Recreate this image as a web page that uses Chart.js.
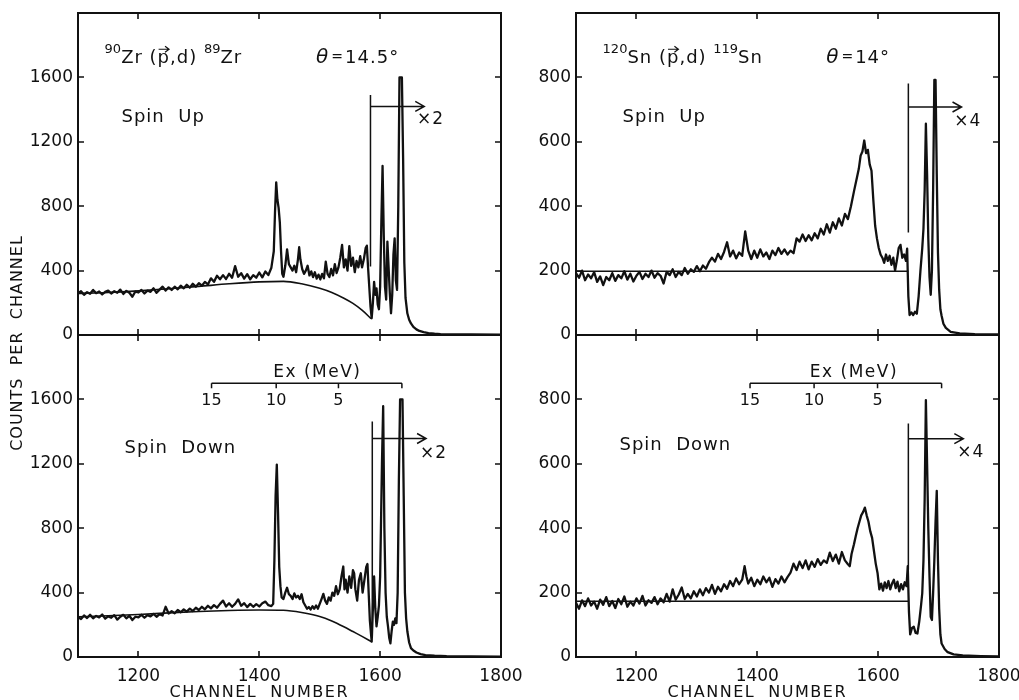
<!DOCTYPE html>
<html>
<head>
<meta charset="utf-8">
<script src="https://cdn.jsdelivr.net/npm/chart.js@4.4.0/dist/chart.umd.min.js"></script>
<style>
html, body { margin: 0; padding: 0; background: #fff; }
#wrap { position: relative; width: 1019px; height: 700px; overflow: hidden; }
#wrap canvas { position: absolute; left: 0; top: 0; }
</style>
</head>
<body>
<div id="wrap">
  <canvas id="tl" width="1019" height="700"></canvas>
  <canvas id="bl" width="1019" height="700"></canvas>
  <canvas id="tr" width="1019" height="700"></canvas>
  <canvas id="br" width="1019" height="700"></canvas>
</div>
<script>
// Axis ticks
const xTicks = [1200, 1400, 1600, 1800];
const zrTicks = [0, 400, 800, 1200, 1600];
const snTicks = [0, 200, 400, 600, 800];

// Excitation energy scale (MeV) and the channels it sits on
const exMeV = [15, 10, 5, 0];
const zrExChan = [1321, 1428, 1531, 1636];
const snExChan = [1388, 1494, 1599, 1705];

// 90Zr spin up
const tlChan = [1100,1105,1110,1115,1120,1125,1130,1135,1140,1145,1150,1155,1160,1165,1170,1175,1180,1185,1190,1195,
  1200,1205,1210,1215,1220,1225,1230,1235,1240,1245,1250,1255,1260,1265,1270,1275,1280,1285,1290,1295,
  1300,1305,1310,1315,1320,1325,1330,1335,1340,1345,1350,1355,1360,1365,1370,1375,1380,1385,1390,1395,
  1400,1405,1410,1415,1420,
  1424,1426,1428,1430,1432,1434,1436,1438,1440,1443,1446,1449,1452,1455,1458,1461,1464,1466,1468,
  1471,1474,1477,1480,1483,1486,1489,1492,1495,1498,1501,1504,1507,1510,1513,1516,1519,1522,1525,1528,
  1531,1534,1537,1540,1543,1546,1549,1552,1555,1558,1561,1564,1567,1570,1573,1576,
  1578,1580,1582,1584,1586,1588,1590,1592,1594,1596,1598,1600,1602,1604,1606,1608,1610,1612,1614,1616,
  1618,1620,1622,1624,1626,1628,1630,1632,1634,1636,1638,1640,1642,
  1645,1648,1651,1655,1660,1665,1672,1680,1690,1700,1720,1750,1800];
const tlCounts = [258,272,250,266,256,280,260,270,252,268,276,258,272,262,282,255,274,262,238,270,
  264,280,258,276,268,290,262,282,300,276,296,280,300,284,306,290,312,294,318,300,
  322,306,330,314,352,330,368,346,372,348,380,356,428,362,384,350,378,346,372,356,
  388,358,394,372,418,
  520,760,948,840,790,700,520,380,362,430,532,440,420,400,430,390,470,545,470,
  410,380,400,430,370,395,360,390,350,375,345,380,352,455,380,360,410,370,440,385,
  420,480,560,420,470,400,552,430,480,390,460,420,490,420,470,540,
  555,420,300,180,104,200,330,250,290,190,160,300,700,1050,620,300,220,580,420,260,
  135,250,500,600,340,280,800,1600,1600,1600,1100,450,230,
  135,95,72,50,35,25,18,12,8,6,4,3,2];
const tlBgChan = [1100,1150,1200,1250,1300,1350,1400,1440,1470,1500,1520,1540,1555,1570,1585];
const tlBgCounts = [258,264,274,287,302,318,330,333,318,290,264,228,196,154,102];

// 90Zr spin down
const blChan = [1100,1105,1110,1115,1120,1125,1130,1135,1140,1145,1150,1155,1160,1165,1170,1175,1180,1185,1190,1195,
  1200,1205,1210,1215,1220,1225,1230,1235,1240,1245,1250,1255,1260,1265,1270,1275,1280,1285,1290,1295,
  1300,1305,1310,1315,1320,1325,1330,1335,1340,1345,1350,1355,1360,1365,1370,1375,1380,1385,1390,1395,
  1400,1405,1410,1415,1420,
  1423,1425,1427,1429,1431,1433,1435,1437,
  1440,1443,1446,1449,1452,1455,1458,1461,1464,1467,1470,1473,1476,1479,1482,1485,1488,1491,1494,1497,
  1500,1503,1506,1509,1512,1515,1518,1521,1524,1527,1530,1533,1536,1539,
  1541,1543,1546,1549,1552,1555,1557,1559,1562,1565,1568,1571,1574,1577,1579,1581,1583,1586,1588,1590,
  1592,1594,1596,1598,1600,
  1603,1605,1607,1609,1611,1613,1615,1617,1619,1621,1623,1625,1627,1629,1631,1633,1637,1639,1641,1643,
  1645,1648,1651,1655,1660,1667,1675,1690,1710,1750,1800];
const blCounts = [248,236,258,242,262,240,255,246,264,238,252,244,260,232,250,262,240,256,230,250,
  246,262,244,260,252,268,250,266,258,312,270,284,272,292,278,296,282,300,286,306,
  292,312,296,318,302,322,306,330,350,314,334,312,330,358,318,334,310,330,312,328,
  314,334,344,322,316,
  330,600,1000,1195,900,560,440,370,
  360,400,430,390,380,360,395,370,380,360,390,340,320,300,310,295,315,300,320,300,
  330,360,392,350,330,370,350,400,380,440,390,420,500,562,
  420,480,400,500,430,540,520,420,350,480,520,400,480,560,578,400,226,95,300,500,
  300,190,250,320,500,
  1200,1558,800,400,250,190,120,85,160,220,200,240,210,400,1100,1600,1600,1000,400,240,
  160,90,55,40,28,18,12,8,5,3,2];
const blBgChan = [1100,1150,1200,1250,1300,1350,1400,1440,1470,1500,1520,1540,1555,1570,1586];
const blBgCounts = [250,256,264,274,283,289,292,290,276,252,224,188,158,128,95];

// 120Sn spin up
const trChan = [1100,1105,1110,1115,1120,1125,1130,1135,1140,1145,1150,1155,1160,1165,1170,1175,1180,1185,1190,1195,
  1200,1205,1210,1215,1220,1225,1230,1235,1240,1245,1250,1255,1260,1265,1270,1275,1280,1285,1290,1295,
  1300,1305,1310,1315,1320,1325,1330,1335,1340,1345,1350,1355,1360,1365,1370,1375,1380,1385,1390,1395,
  1400,1405,1410,1415,1420,1425,1430,1435,1440,1445,1450,1455,1460,
  1465,1470,1475,1480,1485,1490,1495,1500,1505,1510,1515,1520,1525,1530,1535,1540,1545,1550,1555,1560,1565,
  1568,1571,1574,1577,1580,1583,1586,1589,1592,1595,1598,1601,1604,1607,1610,1613,1616,1619,1622,1625,
  1628,1631,1634,1637,1640,1643,1646,
  1648,1650,1652,1655,1658,1661,1664,1667,1670,1673,
  1675,1677,1679,1681,1683,1685,1687,1689,1691,1693,1695,1697,1699,1701,1703,1705,
  1708,1712,1720,1735,1760,1800];
const trCounts = [192,178,200,170,188,176,195,165,182,155,180,170,192,168,186,176,198,172,190,166,
  184,196,174,190,180,200,178,192,184,160,196,186,204,180,196,186,208,190,204,196,
  214,198,216,206,226,240,228,252,236,258,288,244,262,238,256,246,322,262,236,262,
  240,266,244,256,236,262,248,270,252,266,250,262,254,
  300,290,312,292,310,294,316,300,330,312,344,318,350,330,362,340,376,360,400,446,490,
  516,557,570,604,565,575,530,510,420,340,300,270,250,240,224,250,230,246,218,240,
  200,232,270,280,240,250,230,
  268,120,62,70,62,72,66,120,200,270,
  330,450,656,500,300,180,125,200,450,792,792,500,255,140,80,60,
  35,22,10,5,3,2];
const trBgChan = [1100, 1650];
const trBgCounts = [198, 198];

// 120Sn spin down
const brChan = [1100,1105,1110,1115,1120,1125,1130,1135,1140,1145,1150,1155,1160,1165,1170,1175,1180,1185,1190,1195,
  1200,1205,1210,1215,1220,1225,1230,1235,1240,1245,1250,1255,1260,1265,1270,1275,1280,1285,1290,1295,
  1300,1305,1310,1315,1320,1325,1330,1335,1340,1345,1350,1355,1360,1365,1370,1375,
  1379,1382,1385,
  1390,1395,1400,1405,1410,1415,1420,1425,1430,1435,1440,1445,1450,1455,1460,1465,1470,1475,1480,1485,
  1490,1495,1500,1505,1510,1515,1520,1525,1530,1535,1540,1545,1550,1553,1556,
  1560,1563,1566,1569,1572,1575,1578,1581,1584,1587,1590,1593,1596,1599,
  1602,1605,1608,1611,1614,1617,1620,1623,1626,1629,1632,1635,1638,1641,1644,1647,
  1649,1651,1653,1656,1659,1662,1665,1668,1671,
  1673,1675,1677,1679,1681,1683,1685,1687,1689,1691,1693,1695,1697,1699,1701,1703,1705,
  1710,1715,1725,1740,1770,1800];
const brCounts = [168,150,176,158,182,160,172,150,178,162,186,158,174,152,180,164,188,156,172,160,
  182,166,190,160,176,168,186,164,182,170,196,172,210,178,194,216,180,196,182,204,
  188,210,192,214,200,224,196,218,204,226,212,236,220,244,226,240,
  282,250,228,
  246,220,240,226,250,232,246,218,242,228,250,232,248,262,290,270,296,276,300,272,
  296,280,304,286,300,292,324,298,318,290,326,300,288,282,320,
  350,376,400,420,440,450,464,440,420,390,370,330,290,261,
  210,228,206,232,214,236,210,228,240,214,234,204,226,210,232,220,
  282,140,70,90,94,75,73,110,160,
  198,300,491,798,600,400,250,125,115,200,300,420,516,300,150,70,42,
  25,15,8,5,3,2];
const brBgChan = [1100, 1650];
const brBgCounts = [173, 173];

const INK = '#111111';
const FONT = '"DejaVu Sans", sans-serif';
const Y_W = 50;   // width kept for the y tick labels
const X_H = 30;   // height kept for the x tick labels

Chart.defaults.font.family = FONT;
Chart.defaults.color = INK;

const zrReaction = [{ t: '90', sup: true }, { t: 'Zr (' }, { t: 'p', vec: true }, { t: ',d) ' }, { t: '89', sup: true }, { t: 'Zr' }];
const snReaction = [{ t: '120', sup: true }, { t: 'Sn (' }, { t: 'p', vec: true }, { t: ',d) ' }, { t: '119', sup: true }, { t: 'Sn' }];

const panels = [
  { id: 'tl', chan: tlChan, counts: tlCounts, bgChan: tlBgChan, bgCounts: tlBgCounts,
    yMax: 2000, yTicks: zrTicks, area: { left: 78, top: 13, right: 501, bottom: 335 }, xLabels: false,
    reaction: { parts: zrReaction, ch: 1144, y: 1688 }, theta: { text: '14.5°', ch: 1494, y: 1688 },
    spin: { text: 'Spin  Up', ch: 1172, y: 1350 },
    marker: { ch: 1584, lo: 425, hi: 1490 }, arrow: { y: 1420, to: 1673 }, factor: { text: '×2', ch: 1661, y: 1338 },
    yTitle: true },
  { id: 'bl', chan: blChan, counts: blCounts, bgChan: blBgChan, bgCounts: blBgCounts,
    yMax: 2000, yTicks: zrTicks, area: { left: 78, top: 335, right: 501, bottom: 657 }, xLabels: true,
    spin: { text: 'Spin  Down', ch: 1177, y: 1295 },
    marker: { ch: 1587, lo: 120, hi: 1463 }, arrow: { y: 1357, to: 1676 }, factor: { text: '×2', ch: 1666, y: 1264 },
    ex: { chan: zrExChan, y: 1700, titleCh: 1496 } },
  { id: 'tr', chan: trChan, counts: trCounts, bgChan: trBgChan, bgCounts: trBgCounts,
    yMax: 1000, yTicks: snTicks, area: { left: 576, top: 13, right: 999, bottom: 335 }, xLabels: false,
    reaction: { parts: snReaction, ch: 1144, y: 844 }, theta: { text: '14°', ch: 1514, y: 844 },
    spin: { text: 'Spin  Up', ch: 1177, y: 675 },
    marker: { ch: 1650, lo: 318, hi: 781 }, arrow: { y: 708, to: 1738 }, factor: { text: '×4', ch: 1726, y: 662 } },
  { id: 'br', chan: brChan, counts: brCounts, bgChan: brBgChan, bgCounts: brBgCounts,
    yMax: 1000, yTicks: snTicks, area: { left: 576, top: 335, right: 999, bottom: 657 }, xLabels: true,
    spin: { text: 'Spin  Down', ch: 1172, y: 656 },
    marker: { ch: 1650, lo: 271, hi: 725 }, arrow: { y: 678, to: 1741 }, factor: { text: '×4', ch: 1731, y: 634 },
    ex: { chan: snExChan, y: 850, titleCh: 1560 } }
];

function font(size, style) {
  return (style ? style + ' ' : '') + size + 'px ' + FONT;
}

// frame, inward ticks, markers and the lettering of one panel
function panelPlugin(p) {
  return {
    id: 'panel_' + p.id,
    afterDraw(chart) {
      const { ctx, chartArea: a } = chart;
      const x = chart.scales.x, y = chart.scales.y;
      ctx.save();
      ctx.strokeStyle = INK;
      ctx.fillStyle = INK;

      ctx.lineWidth = 2;
      ctx.strokeRect(a.left, a.top, a.right - a.left, a.bottom - a.top);

      ctx.lineWidth = 1.6;
      ctx.beginPath();
      p.yTicks.forEach(v => {
        const py = Math.round(y.getPixelForValue(v));
        ctx.moveTo(a.left, py); ctx.lineTo(a.left + 6, py);
        ctx.moveTo(a.right, py); ctx.lineTo(a.right - 6, py);
      });
      xTicks.forEach(v => {
        const px = Math.round(x.getPixelForValue(v));
        ctx.moveTo(px, a.top); ctx.lineTo(px, a.top + 6);
        ctx.moveTo(px, a.bottom); ctx.lineTo(px, a.bottom - 6);
      });
      ctx.stroke();

      // scale-change marker with arrow
      const mx = x.getPixelForValue(p.marker.ch);
      const ay = y.getPixelForValue(p.arrow.y);
      const ax = x.getPixelForValue(p.arrow.to);
      ctx.lineWidth = 1.5;
      ctx.beginPath();
      ctx.moveTo(mx, y.getPixelForValue(p.marker.lo));
      ctx.lineTo(mx, y.getPixelForValue(p.marker.hi));
      ctx.moveTo(mx, ay); ctx.lineTo(ax, ay);
      ctx.moveTo(ax - 9, ay - 5); ctx.lineTo(ax, ay); ctx.lineTo(ax - 9, ay + 5);
      ctx.stroke();

      ctx.textBaseline = 'middle';
      ctx.textAlign = 'left';
      ctx.font = font(17);
      ctx.letterSpacing = '1px';
      ctx.fillText(p.factor.text, x.getPixelForValue(p.factor.ch), y.getPixelForValue(p.factor.y));

      ctx.font = font(18);
      ctx.letterSpacing = '1px';
      ctx.fillText(p.spin.text, x.getPixelForValue(p.spin.ch), y.getPixelForValue(p.spin.y));

      if (p.reaction) {
        ctx.textBaseline = 'alphabetic';
        let cx = x.getPixelForValue(p.reaction.ch);
        const by = y.getPixelForValue(p.reaction.y);
        p.reaction.parts.forEach(part => {
          ctx.font = part.sup ? font(13) : font(18);
          ctx.letterSpacing = part.sup ? '0px' : '1px';
          ctx.fillText(part.t, cx, part.sup ? by - 10 : by);
          const w = ctx.measureText(part.t).width;
          if (part.vec) {
            const vy = by - 14;
            ctx.lineWidth = 1.2;
            ctx.beginPath();
            ctx.moveTo(cx + 1, vy); ctx.lineTo(cx + w - 1, vy);
            ctx.moveTo(cx + w - 5, vy - 3); ctx.lineTo(cx + w - 1, vy); ctx.lineTo(cx + w - 5, vy + 3);
            ctx.stroke();
          }
          cx += w;
        });
        let tx = x.getPixelForValue(p.theta.ch);
        ctx.font = font(20, 'italic');
        ctx.letterSpacing = '0px';
        ctx.fillText('θ', tx, by);
        tx += ctx.measureText('θ').width + 3;
        ctx.font = font(14);
        ctx.fillText('=', tx, by - 2);
        tx += ctx.measureText('=').width + 2;
        ctx.font = font(18);
        ctx.letterSpacing = '1px';
        ctx.fillText(p.theta.text, tx, by);
      }

      if (p.ex) {
        const ly = y.getPixelForValue(p.ex.y);
        const xs = p.ex.chan.map(c => x.getPixelForValue(c));
        ctx.lineWidth = 1.5;
        ctx.beginPath();
        ctx.moveTo(xs[0], ly); ctx.lineTo(xs[xs.length - 1], ly);
        xs.forEach(px => { ctx.moveTo(px, ly); ctx.lineTo(px, ly + 5); });
        ctx.stroke();
        ctx.textAlign = 'center';
        ctx.textBaseline = 'middle';
        ctx.font = font(16);
        ctx.letterSpacing = '0px';
        exMeV.forEach((e, i) => { if (e) ctx.fillText(String(e), xs[i], ly + 18); });
        ctx.font = font(17);
        ctx.letterSpacing = '1.5px';
        ctx.fillText('Ex (MeV)', x.getPixelForValue(p.ex.titleCh), ly - 11);
      }

      if (p.xLabels) {
        ctx.textAlign = 'center';
        ctx.textBaseline = 'middle';
        ctx.font = font(16);
        ctx.letterSpacing = '1.5px';
        ctx.fillText('CHANNEL  NUMBER', x.getPixelForValue(1400), 693);
      }

      if (p.yTitle) {
        ctx.translate(18, 343);
        ctx.rotate(-Math.PI / 2);
        ctx.textAlign = 'center';
        ctx.textBaseline = 'middle';
        ctx.font = font(16);
        ctx.letterSpacing = '1px';
        ctx.fillText('COUNTS  PER  CHANNEL', 0, 0);
      }
      ctx.restore();
    }
  };
}

function makeChart(p) {
  const pad = {
    left: p.area.left - Y_W,
    top: p.area.top,
    right: 1019 - p.area.right,
    bottom: 700 - p.area.bottom - (p.xLabels ? X_H : 0)
  };
  return new Chart(document.getElementById(p.id), {
    type: 'line',
    data: {
      datasets: [
        { data: p.chan.map((c, i) => ({ x: c, y: p.counts[i] })),
          borderColor: INK, borderWidth: 2.3, pointRadius: 0, borderJoinStyle: 'round', tension: 0 },
        { data: p.bgChan.map((c, i) => ({ x: c, y: p.bgCounts[i] })),
          borderColor: INK, borderWidth: 1.6, pointRadius: 0, cubicInterpolationMode: 'monotone' }
      ]
    },
    options: {
      responsive: false,
      animation: false,
      devicePixelRatio: 1,
      events: [],
      layout: { padding: pad, autoPadding: false },
      plugins: { legend: { display: false }, tooltip: { enabled: false } },
      scales: {
        x: {
          type: 'linear', min: 1100, max: 1800,
          grid: { display: false, drawTicks: false },
          border: { display: false },
          afterBuildTicks: s => { s.ticks = xTicks.map(v => ({ value: v })); },
          afterFit: s => { s.height = p.xLabels ? X_H : 0; s.paddingLeft = 0; s.paddingRight = 0; },
          ticks: { display: p.xLabels, autoSkip: false, maxRotation: 0, padding: 9, color: INK,
                   font: { size: 17 }, callback: v => String(v) }
        },
        y: {
          type: 'linear', min: 0, max: p.yMax,
          grid: { display: false, drawTicks: false },
          border: { display: false },
          afterBuildTicks: s => { s.ticks = p.yTicks.map(v => ({ value: v })); },
          afterFit: s => { s.width = Y_W; s.paddingTop = 0; s.paddingBottom = 0; },
          ticks: { autoSkip: false, padding: 5, color: INK, font: { size: 17 }, callback: v => String(v) }
        }
      }
    },
    plugins: [panelPlugin(p)]
  });
}

panels.forEach(makeChart);
</script>
</body>
</html>
